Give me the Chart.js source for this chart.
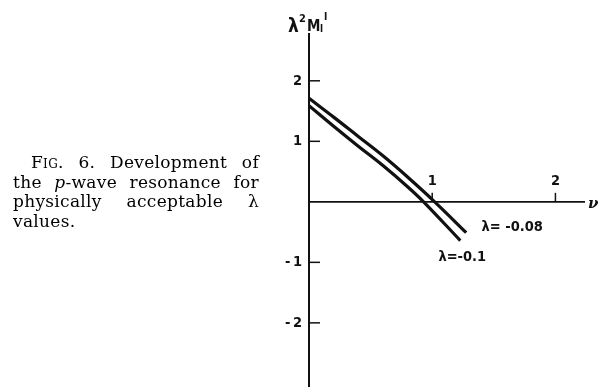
<!DOCTYPE html>
<html>
<head>
<meta charset="utf-8">
<script src="https://cdn.jsdelivr.net/npm/chart.js@4"></script>
<style>
    html, body { margin: 0; padding: 0; background: #fff; }
    #wrap { position: relative; width: 600px; height: 387px; overflow: hidden; }
    #chart { position: absolute; left: 0; top: 0; }
    .caption {
        position: absolute;
        left: 13px;
        top: 153px;
        width: 246px;
        font-family: "DejaVu Serif", "Liberation Serif", serif;
        font-size: 17px;
        letter-spacing: 0.3px;
        line-height: 19.5px;
        color: #000;
    }
    .caption div { text-align: justify; text-align-last: justify; }
    .caption div.last { text-align-last: left; }
    .caption .sc { font-variant: small-caps; }
</style>
</head>
<body>
<div id="wrap">
    <canvas id="chart" width="600" height="387"></canvas>
    <div class="caption">
        <div style="padding-left:18px">F<span class="sc">ig</span>. 6. Development of</div>
        <div>the <i>p</i>-wave resonance for</div>
        <div>physically acceptable λ</div>
        <div class="last">values.</div>
    </div>
</div>
<script>
// courbes M1' pour les deux valeurs de lambda
const nuUpper = [0, 0.2, 0.4, 0.6, 0.8, 1.02, 1.276];
const m1Upper = [1.71, 1.4, 1.08, 0.76, 0.41, 0, -0.51];
const nuLower = [0, 0.2, 0.4, 0.6, 0.8, 0.93, 1.228];
const m1Lower = [1.59, 1.25, 0.92, 0.6, 0.25, 0, -0.64];

const yTicks = [2, 1, -1, -2];
const xTicks = [1, 2];

const condensed = '"DejaVu Sans Condensed", "Liberation Sans Narrow", sans-serif';
const labelFont = 'bold 14.5px ' + condensed;

function toPoints(xs, ys) {
    return xs.map((x, i) => ({ x: x, y: ys[i] }));
}

// axes en croix dessinés à la main (origine au milieu du graphique)
const axesPlugin = {
    id: 'axesCroix',
    afterDraw(chart) {
        const ctx = chart.ctx;
        const xs = chart.scales.x;
        const ys = chart.scales.y;
        const x0 = xs.getPixelForValue(0);
        const y0 = ys.getPixelForValue(0);
        const area = chart.chartArea;

        ctx.save();
        ctx.strokeStyle = '#111';
        ctx.fillStyle = '#111';

        // axe vertical
        ctx.lineWidth = 2;
        ctx.beginPath();
        ctx.moveTo(x0, area.top);
        ctx.lineTo(x0, area.bottom);
        ctx.stroke();

        // axe horizontal
        ctx.lineWidth = 1.8;
        ctx.beginPath();
        ctx.moveTo(x0, y0);
        ctx.lineTo(area.right, y0);
        ctx.stroke();

        // graduations y
        ctx.lineWidth = 1.5;
        ctx.font = labelFont;
        ctx.textAlign = 'right';
        ctx.textBaseline = 'middle';
        yTicks.forEach(v => {
            const py = ys.getPixelForValue(v);
            ctx.beginPath();
            ctx.moveTo(x0, py);
            ctx.lineTo(x0 + 11, py);
            ctx.stroke();
            ctx.fillText(v < 0 ? '-\u2009' + Math.abs(v) : String(v), x0 - 7, py);
        });

        // graduations x
        ctx.textAlign = 'center';
        ctx.textBaseline = 'alphabetic';
        xTicks.forEach(v => {
            const px = xs.getPixelForValue(v);
            ctx.beginPath();
            ctx.moveTo(px, y0);
            ctx.lineTo(px, y0 - 9);
            ctx.stroke();
            ctx.fillText(String(v), px, y0 - 17);
        });

        // nom des axes
        ctx.font = 'italic bold 15px "DejaVu Serif", serif';
        ctx.textAlign = 'left';
        ctx.textBaseline = 'middle';
        ctx.fillText('ν', area.right + 3, y0 + 2);

        ctx.textBaseline = 'alphabetic';
        ctx.font = 'bold 19px ' + condensed;
        ctx.fillText('λ', x0 - 21, 32);
        ctx.font = 'bold 11px ' + condensed;
        ctx.fillText('2', x0 - 10, 22);
        ctx.font = 'bold 15px ' + condensed;
        ctx.fillText('M', x0 - 2, 31);
        ctx.font = 'bold 10px ' + condensed;
        ctx.fillText('l', x0 + 11, 32);
        ctx.fillText('I', x0 + 15, 20);

        // étiquettes des courbes
        ctx.font = labelFont;
        ctx.textBaseline = 'middle';
        ctx.fillText('λ= -0.08', xs.getPixelForValue(1.4), ys.getPixelForValue(-0.42));
        ctx.fillText('λ=-0.1', xs.getPixelForValue(1.05), ys.getPixelForValue(-0.91));
        ctx.restore();
    }
};

new Chart(document.getElementById('chart'), {
    type: 'line',
    data: {
        datasets: [
            {
                label: 'λ = -0.08',
                data: toPoints(nuUpper, m1Upper),
                borderColor: '#111',
                borderWidth: 3.2,
                pointRadius: 0,
                tension: 0.4,
                fill: false
            },
            {
                label: 'λ = -0.1',
                data: toPoints(nuLower, m1Lower),
                borderColor: '#111',
                borderWidth: 3.2,
                pointRadius: 0,
                tension: 0.4,
                fill: false
            }
        ]
    },
    options: {
        responsive: false,
        devicePixelRatio: 1,
        animation: false,
        layout: {
            padding: { left: 309, right: 15, top: 33, bottom: 0 }
        },
        plugins: {
            legend: { display: false },
            tooltip: { enabled: false }
        },
        scales: {
            x: { type: 'linear', min: 0, max: 2.24, display: false },
            y: { type: 'linear', min: -3.06, max: 2.79, display: false }
        }
    },
    plugins: [axesPlugin]
});
</script>
</body>
</html>
